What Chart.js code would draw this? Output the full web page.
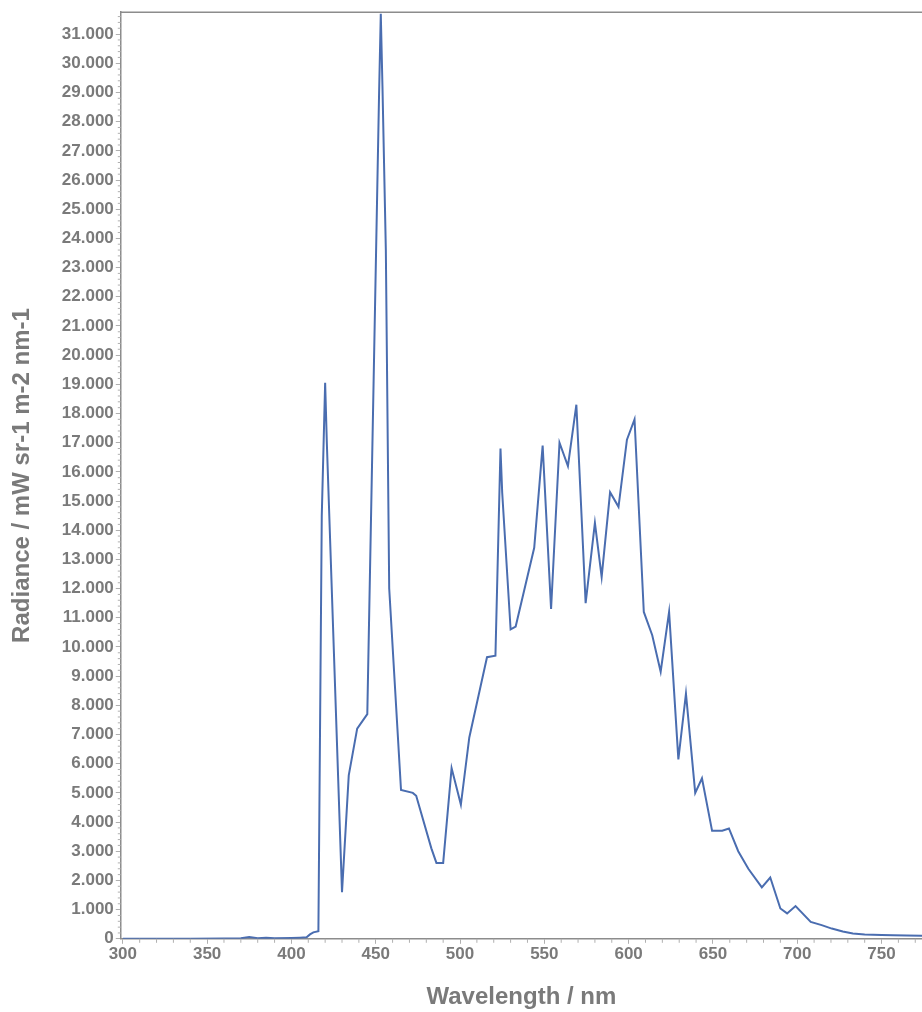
<!DOCTYPE html>
<html>
<head>
<meta charset="utf-8">
<script src="https://cdn.jsdelivr.net/npm/chart.js@4.4.1/dist/chart.umd.min.js"></script>
<style>
  html, body { margin: 0; padding: 0; background: #fff; }
  #wrap { width: 922px; height: 1012px; }
</style>
</head>
<body>
<div id="wrap"><canvas id="spectrumChart"></canvas></div>
<script>
// wavelength in nm, radiance in mW sr-1 m-2 nm-1
var wavelengths = [300, 320, 340, 360, 370, 375, 380, 385, 390, 400, 405, 409, 411, 413, 416,
    418, 420, 421, 430, 434, 439, 445, 452, 453, 454, 456, 458, 465, 472, 474,
    483, 486, 490, 495, 500.5, 505.5, 512, 516, 521, 524, 525, 530, 533, 544,
    549, 554, 559, 564, 569, 574.5, 580, 584, 589, 594, 599, 603.5, 609, 614,
    619, 624, 629.5, 634, 639.5, 643.5, 649.5, 655.5, 659.5, 665, 671, 679,
    684, 690, 694, 699, 708, 714.5, 720.5, 727, 733, 740, 750, 757, 765, 775];
var radiance = [0, 0, 0, 10, 20, 60, 20, 40, 20, 30, 40, 50, 150, 220, 260,
    14500, 19050, 17000, 1600, 5600, 7200, 7700, 29000, 31700, 29200, 23600, 12000, 5100, 5000, 4900,
    3100, 2600, 2600, 5850, 4600, 6900, 8600, 9650, 9700, 16800, 15300, 10600, 10700, 13400,
    16900, 11300, 17000, 16200, 18300, 11500, 14250, 12400, 15300, 14800, 17100, 17800, 11200, 10400,
    9150, 11200, 6150, 8400, 5000, 5500, 3700, 3700, 3780, 3000, 2400, 1760,
    2100, 1040, 870, 1120, 580, 470, 350, 250, 180, 150, 130, 120, 110, 100];

// tick labels
var xTicks = [300, 350, 400, 450, 500, 550, 600, 650, 700, 750];
var yTicks = [0, 1000, 2000, 3000, 4000, 5000, 6000, 7000, 8000, 9000, 10000,
    11000, 12000, 13000, 14000, 15000, 16000, 17000, 18000, 19000, 20000,
    21000, 22000, 23000, 24000, 25000, 26000, 27000, 28000, 29000, 30000, 31000];

var xMin = 298.8, xMax = 774;
var yMin = 0, yMax = 31750;

var axisGray = '#8c8c8c';
var textGray = '#7a7a7a';

var points = wavelengths.map(function (w, i) { return { x: w, y: radiance[i] }; });

function fmtThousands(v) {
    if (v === 0) return '0';
    return Math.round(v / 1000) + '.000';
}

// small minor ticks and the top frame line
var frame = {
    id: 'frame',
    afterDraw: function (chart) {
        var c = chart.ctx, a = chart.chartArea;
        var xs = chart.scales.x, ys = chart.scales.y;
        c.save();
        c.strokeStyle = axisGray;
        c.lineWidth = 1.5;
        c.beginPath();
        c.moveTo(a.left, a.top);
        c.lineTo(a.right, a.top);
        c.stroke();
        c.lineWidth = 1;
        c.strokeStyle = '#b0b0b0';
        c.beginPath();
        for (var w = 300; w <= xMax; w += 10) {
            if (w % 50 === 0) continue;
            var px = xs.getPixelForValue(w);
            c.moveTo(px, a.bottom);
            c.lineTo(px, a.bottom + 4);
        }
        for (var v = 200; v <= yMax; v += 200) {
            if (v % 1000 === 0) continue;
            var py = ys.getPixelForValue(v);
            c.moveTo(a.left, py);
            c.lineTo(a.left - 3, py);
        }
        c.stroke();
        c.restore();
    }
};

var ctx = document.getElementById('spectrumChart').getContext('2d');
var spectrumChart = new Chart(ctx, {
    type: 'line',
    data: {
        datasets: [{
            data: points,
            borderColor: '#4a6db0',
            borderWidth: 2,
            pointRadius: 0,
            tension: 0,
            fill: false
        }]
    },
    options: {
        responsive: true,
        maintainAspectRatio: false,
        animation: false,
        layout: { padding: { left: 8, top: 12, right: 0, bottom: 0 } },
        plugins: { legend: { display: false }, tooltip: { enabled: false } },
        scales: {
            x: {
                type: 'linear',
                position: 'bottom',
                min: xMin,
                max: xMax,
                afterBuildTicks: function (axis) {
                    axis.ticks = xTicks.map(function (v) { return { value: v }; });
                },
                ticks: {
                    autoSkip: false,
                    color: textGray,
                    font: { family: 'Liberation Sans', size: 17, weight: 'bold' },
                    padding: 0,
                    maxRotation: 0
                },
                grid: { drawOnChartArea: false, color: '#b0b0b0', tickLength: 5 },
                border: { color: axisGray, width: 1.5 },
                title: {
                    display: true,
                    text: 'Wavelength / nm',
                    color: textGray,
                    font: { family: 'Liberation Sans', size: 24, weight: 'bold' },
                    padding: { top: 19, bottom: 0 }
                }
            },
            y: {
                min: yMin,
                max: yMax,
                afterBuildTicks: function (axis) {
                    axis.ticks = yTicks.map(function (v) { return { value: v }; });
                },
                ticks: {
                    autoSkip: false,
                    color: textGray,
                    font: { family: 'Liberation Sans', size: 17, weight: 'bold' },
                    padding: 2,
                    callback: function (v) { return fmtThousands(v); }
                },
                grid: { drawOnChartArea: false, color: '#b0b0b0', tickLength: 5 },
                border: { color: axisGray, width: 1.5 },
                title: {
                    display: true,
                    text: 'Radiance / mW sr-1 m-2 nm-1',
                    color: textGray,
                    font: { family: 'Liberation Sans', size: 24, weight: 'bold' },
                    padding: { top: 0, bottom: 23 }
                }
            }
        }
    },
    plugins: [frame]
});
</script>
</body>
</html>
